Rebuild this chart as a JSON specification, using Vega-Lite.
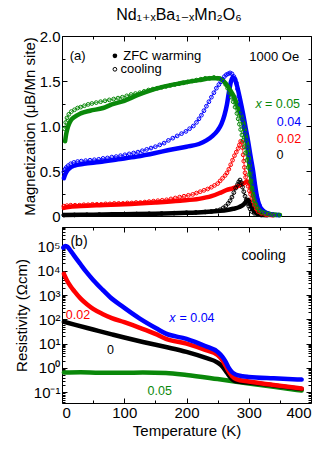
{
"$schema": "https://vega.github.io/schema/vega-lite/v6.json",
"padding": {"left": 13, "right": 2, "top": 6, "bottom": 2},
"title": {"text": "Nd₁₊ₓBa₁₋ₓMn₂O₆", "font": "Liberation Sans, DejaVu Sans", "fontSize": 16, "fontWeight": "normal", "color": "black", "anchor": "middle", "offset": 6, "dx": 16},
"spacing": 1,
"config": {
  "view": {"stroke": "black", "strokeWidth": 1},
  "font": "Liberation Sans",
  "axis": {"labelFont": "Liberation Sans", "titleFont": "Liberation Sans", "labelFontSize": 15, "titleFontSize": 15, "titleFontWeight": "normal", "labelColor": "black", "titleColor": "black", "tickColor": "black", "tickWidth": 1, "domain": false, "grid": false, "labelPadding": 7, "tickSize": -5}
},
"datasets": {
  "mag": [
    {"s":"0","m":"Z","T":3,"M":0.012},{"s":"0","m":"Z","T":50,"M":0.015},{"s":"0","m":"Z","T":100,"M":0.02},{"s":"0","m":"Z","T":150,"M":0.025},{"s":"0","m":"Z","T":200,"M":0.035},{"s":"0","m":"Z","T":230,"M":0.045},{"s":"0","m":"Z","T":250,"M":0.055},{"s":"0","m":"Z","T":265,"M":0.065},{"s":"0","m":"Z","T":275,"M":0.08},{"s":"0","m":"Z","T":285,"M":0.1},{"s":"0","m":"Z","T":292,"M":0.13},{"s":"0","m":"Z","T":296,"M":0.16},{"s":"0","m":"Z","T":299,"M":0.18},{"s":"0","m":"Z","T":302,"M":0.15},{"s":"0","m":"Z","T":305,"M":0.1},{"s":"0","m":"Z","T":308,"M":0.06},{"s":"0","m":"Z","T":312,"M":0.03},{"s":"0","m":"Z","T":318,"M":0.015},{"s":"0","m":"Z","T":330,"M":0.008},
    {"s":"0.02","m":"Z","T":3,"M":0.09},{"s":"0.02","m":"Z","T":10,"M":0.1},{"s":"0.02","m":"Z","T":30,"M":0.11},{"s":"0.02","m":"Z","T":60,"M":0.12},{"s":"0.02","m":"Z","T":100,"M":0.13},{"s":"0.02","m":"Z","T":150,"M":0.15},{"s":"0.02","m":"Z","T":190,"M":0.17},{"s":"0.02","m":"Z","T":220,"M":0.19},{"s":"0.02","m":"Z","T":240,"M":0.22},{"s":"0.02","m":"Z","T":255,"M":0.26},{"s":"0.02","m":"Z","T":265,"M":0.29},{"s":"0.02","m":"Z","T":275,"M":0.31},{"s":"0.02","m":"Z","T":285,"M":0.34},{"s":"0.02","m":"Z","T":292,"M":0.36},{"s":"0.02","m":"Z","T":297,"M":0.38},{"s":"0.02","m":"Z","T":300,"M":0.38},{"s":"0.02","m":"Z","T":303,"M":0.34},{"s":"0.02","m":"Z","T":306,"M":0.27},{"s":"0.02","m":"Z","T":309,"M":0.2},{"s":"0.02","m":"Z","T":312,"M":0.12},{"s":"0.02","m":"Z","T":316,"M":0.06},{"s":"0.02","m":"Z","T":322,"M":0.03},{"s":"0.02","m":"Z","T":330,"M":0.015},{"s":"0.02","m":"Z","T":340,"M":0.01},
    {"s":"0.04","m":"Z","T":3,"M":0.42},{"s":"0.04","m":"Z","T":5,"M":0.46},{"s":"0.04","m":"Z","T":8,"M":0.5},{"s":"0.04","m":"Z","T":12,"M":0.53},{"s":"0.04","m":"Z","T":20,"M":0.56},{"s":"0.04","m":"Z","T":35,"M":0.58},{"s":"0.04","m":"Z","T":60,"M":0.6},{"s":"0.04","m":"Z","T":90,"M":0.63},{"s":"0.04","m":"Z","T":120,"M":0.66},{"s":"0.04","m":"Z","T":150,"M":0.7},{"s":"0.04","m":"Z","T":170,"M":0.73},{"s":"0.04","m":"Z","T":200,"M":0.77},{"s":"0.04","m":"Z","T":220,"M":0.8},{"s":"0.04","m":"Z","T":232,"M":0.84},{"s":"0.04","m":"Z","T":242,"M":0.89},{"s":"0.04","m":"Z","T":250,"M":0.95},{"s":"0.04","m":"Z","T":256,"M":1.02},{"s":"0.04","m":"Z","T":261,"M":1.12},{"s":"0.04","m":"Z","T":265,"M":1.24},{"s":"0.04","m":"Z","T":268,"M":1.37},{"s":"0.04","m":"Z","T":271,"M":1.48},{"s":"0.04","m":"Z","T":274,"M":1.54},{"s":"0.04","m":"Z","T":277,"M":1.53},{"s":"0.04","m":"Z","T":281,"M":1.45},{"s":"0.04","m":"Z","T":286,"M":1.3},{"s":"0.04","m":"Z","T":291,"M":1.13},{"s":"0.04","m":"Z","T":295,"M":0.98},{"s":"0.04","m":"Z","T":299,"M":0.83},{"s":"0.04","m":"Z","T":303,"M":0.66},{"s":"0.04","m":"Z","T":307,"M":0.5},{"s":"0.04","m":"Z","T":310,"M":0.35},{"s":"0.04","m":"Z","T":313,"M":0.22},{"s":"0.04","m":"Z","T":317,"M":0.12},{"s":"0.04","m":"Z","T":323,"M":0.06},{"s":"0.04","m":"Z","T":330,"M":0.03},{"s":"0.04","m":"Z","T":345,"M":0.01},
    {"s":"0.05","m":"Z","T":5,"M":0.83},{"s":"0.05","m":"Z","T":7,"M":0.92},{"s":"0.05","m":"Z","T":10,"M":1.0},{"s":"0.05","m":"Z","T":14,"M":1.06},{"s":"0.05","m":"Z","T":20,"M":1.1},{"s":"0.05","m":"Z","T":30,"M":1.14},{"s":"0.05","m":"Z","T":45,"M":1.17},{"s":"0.05","m":"Z","T":66,"M":1.2},{"s":"0.05","m":"Z","T":80,"M":1.24},{"s":"0.05","m":"Z","T":100,"M":1.28},{"s":"0.05","m":"Z","T":120,"M":1.34},{"s":"0.05","m":"Z","T":140,"M":1.39},{"s":"0.05","m":"Z","T":165,"M":1.44},{"s":"0.05","m":"Z","T":195,"M":1.48},{"s":"0.05","m":"Z","T":220,"M":1.51},{"s":"0.05","m":"Z","T":240,"M":1.53},{"s":"0.05","m":"Z","T":252,"M":1.53},{"s":"0.05","m":"Z","T":262,"M":1.48},{"s":"0.05","m":"Z","T":270,"M":1.4},{"s":"0.05","m":"Z","T":276,"M":1.33},{"s":"0.05","m":"Z","T":281,"M":1.24},{"s":"0.05","m":"Z","T":286,"M":1.14},{"s":"0.05","m":"Z","T":291,"M":1.04},{"s":"0.05","m":"Z","T":295,"M":0.88},{"s":"0.05","m":"Z","T":299,"M":0.72},{"s":"0.05","m":"Z","T":302,"M":0.52},{"s":"0.05","m":"Z","T":305,"M":0.37},{"s":"0.05","m":"Z","T":309,"M":0.18},{"s":"0.05","m":"Z","T":313,"M":0.1},{"s":"0.05","m":"Z","T":318,"M":0.06},{"s":"0.05","m":"Z","T":325,"M":0.04},{"s":"0.05","m":"Z","T":335,"M":0.02},{"s":"0.05","m":"Z","T":350,"M":0.01},

    {"s":"0","m":"C","T":3,"M":0.01},{"s":"0","m":"C","T":20,"M":0.012},{"s":"0","m":"C","T":40,"M":0.014},{"s":"0","m":"C","T":60,"M":0.016},{"s":"0","m":"C","T":80,"M":0.018},{"s":"0","m":"C","T":100,"M":0.02},{"s":"0","m":"C","T":120,"M":0.022},{"s":"0","m":"C","T":140,"M":0.025},{"s":"0","m":"C","T":160,"M":0.028},{"s":"0","m":"C","T":180,"M":0.032},{"s":"0","m":"C","T":200,"M":0.036},{"s":"0","m":"C","T":215,"M":0.04},{"s":"0","m":"C","T":230,"M":0.045},{"s":"0","m":"C","T":240,"M":0.05},{"s":"0","m":"C","T":248,"M":0.06},{"s":"0","m":"C","T":254,"M":0.07},{"s":"0","m":"C","T":259,"M":0.09},{"s":"0","m":"C","T":263,"M":0.11},{"s":"0","m":"C","T":267,"M":0.14},{"s":"0","m":"C","T":270,"M":0.17},{"s":"0","m":"C","T":273,"M":0.21},{"s":"0","m":"C","T":276,"M":0.26},{"s":"0","m":"C","T":279,"M":0.31},{"s":"0","m":"C","T":282,"M":0.35},{"s":"0","m":"C","T":284,"M":0.38},{"s":"0","m":"C","T":286,"M":0.4},{"s":"0","m":"C","T":288,"M":0.37},{"s":"0","m":"C","T":290,"M":0.32},{"s":"0","m":"C","T":292,"M":0.27},{"s":"0","m":"C","T":294,"M":0.22},{"s":"0","m":"C","T":296,"M":0.18},{"s":"0","m":"C","T":298,"M":0.14},{"s":"0","m":"C","T":300,"M":0.11},{"s":"0","m":"C","T":302,"M":0.08},{"s":"0","m":"C","T":305,"M":0.05},{"s":"0","m":"C","T":309,"M":0.03},{"s":"0","m":"C","T":314,"M":0.02},{"s":"0","m":"C","T":320,"M":0.01},

    {"s":"0.02","m":"C","T":3,"M":0.11},{"s":"0.02","m":"C","T":8,"M":0.115},{"s":"0.02","m":"C","T":14,"M":0.12},{"s":"0.02","m":"C","T":21,"M":0.12},{"s":"0.02","m":"C","T":28,"M":0.12},{"s":"0.02","m":"C","T":35,"M":0.125},{"s":"0.02","m":"C","T":42,"M":0.125},{"s":"0.02","m":"C","T":49,"M":0.13},{"s":"0.02","m":"C","T":56,"M":0.13},{"s":"0.02","m":"C","T":63,"M":0.13},{"s":"0.02","m":"C","T":70,"M":0.135},{"s":"0.02","m":"C","T":77,"M":0.135},{"s":"0.02","m":"C","T":84,"M":0.14},{"s":"0.02","m":"C","T":91,"M":0.14},{"s":"0.02","m":"C","T":98,"M":0.14},{"s":"0.02","m":"C","T":105,"M":0.145},{"s":"0.02","m":"C","T":112,"M":0.145},{"s":"0.02","m":"C","T":119,"M":0.15},{"s":"0.02","m":"C","T":126,"M":0.15},{"s":"0.02","m":"C","T":133,"M":0.155},{"s":"0.02","m":"C","T":140,"M":0.16},{"s":"0.02","m":"C","T":147,"M":0.165},{"s":"0.02","m":"C","T":154,"M":0.17},{"s":"0.02","m":"C","T":161,"M":0.175},{"s":"0.02","m":"C","T":168,"M":0.18},{"s":"0.02","m":"C","T":175,"M":0.19},{"s":"0.02","m":"C","T":182,"M":0.2},{"s":"0.02","m":"C","T":189,"M":0.21},{"s":"0.02","m":"C","T":196,"M":0.22},{"s":"0.02","m":"C","T":203,"M":0.23},{"s":"0.02","m":"C","T":210,"M":0.24},{"s":"0.02","m":"C","T":216,"M":0.255},{"s":"0.02","m":"C","T":222,"M":0.27},{"s":"0.02","m":"C","T":228,"M":0.285},{"s":"0.02","m":"C","T":234,"M":0.3},{"s":"0.02","m":"C","T":240,"M":0.32},{"s":"0.02","m":"C","T":245,"M":0.34},{"s":"0.02","m":"C","T":250,"M":0.36},{"s":"0.02","m":"C","T":254,"M":0.39},{"s":"0.02","m":"C","T":258,"M":0.42},{"s":"0.02","m":"C","T":262,"M":0.45},{"s":"0.02","m":"C","T":265,"M":0.48},{"s":"0.02","m":"C","T":268,"M":0.52},{"s":"0.02","m":"C","T":271,"M":0.57},{"s":"0.02","m":"C","T":274,"M":0.62},{"s":"0.02","m":"C","T":277,"M":0.67},{"s":"0.02","m":"C","T":280,"M":0.71},{"s":"0.02","m":"C","T":283,"M":0.75},{"s":"0.02","m":"C","T":285,"M":0.79},{"s":"0.02","m":"C","T":287,"M":0.83},{"s":"0.02","m":"C","T":289,"M":0.82},{"s":"0.02","m":"C","T":290,"M":0.76},{"s":"0.02","m":"C","T":291,"M":0.68},{"s":"0.02","m":"C","T":292,"M":0.61},{"s":"0.02","m":"C","T":293,"M":0.54},{"s":"0.02","m":"C","T":294,"M":0.48},{"s":"0.02","m":"C","T":295,"M":0.43},{"s":"0.02","m":"C","T":297,"M":0.38},{"s":"0.02","m":"C","T":299,"M":0.33},{"s":"0.02","m":"C","T":301,"M":0.28},{"s":"0.02","m":"C","T":303,"M":0.24},{"s":"0.02","m":"C","T":305,"M":0.2},{"s":"0.02","m":"C","T":307,"M":0.16},{"s":"0.02","m":"C","T":309,"M":0.12},{"s":"0.02","m":"C","T":312,"M":0.08},{"s":"0.02","m":"C","T":315,"M":0.05},{"s":"0.02","m":"C","T":320,"M":0.03},{"s":"0.02","m":"C","T":328,"M":0.015},{"s":"0.02","m":"C","T":338,"M":0.01},

    {"s":"0.04","m":"C","T":3,"M":0.49},{"s":"0.04","m":"C","T":5,"M":0.52},{"s":"0.04","m":"C","T":7,"M":0.54},{"s":"0.04","m":"C","T":10,"M":0.56},{"s":"0.04","m":"C","T":14,"M":0.58},{"s":"0.04","m":"C","T":19,"M":0.595},{"s":"0.04","m":"C","T":25,"M":0.605},{"s":"0.04","m":"C","T":31,"M":0.61},{"s":"0.04","m":"C","T":38,"M":0.615},{"s":"0.04","m":"C","T":45,"M":0.62},{"s":"0.04","m":"C","T":52,"M":0.625},{"s":"0.04","m":"C","T":59,"M":0.63},{"s":"0.04","m":"C","T":66,"M":0.64},{"s":"0.04","m":"C","T":73,"M":0.645},{"s":"0.04","m":"C","T":80,"M":0.655},{"s":"0.04","m":"C","T":87,"M":0.66},{"s":"0.04","m":"C","T":94,"M":0.67},{"s":"0.04","m":"C","T":101,"M":0.68},{"s":"0.04","m":"C","T":108,"M":0.69},{"s":"0.04","m":"C","T":115,"M":0.7},{"s":"0.04","m":"C","T":122,"M":0.71},{"s":"0.04","m":"C","T":129,"M":0.725},{"s":"0.04","m":"C","T":136,"M":0.74},{"s":"0.04","m":"C","T":143,"M":0.755},{"s":"0.04","m":"C","T":150,"M":0.77},{"s":"0.04","m":"C","T":157,"M":0.79},{"s":"0.04","m":"C","T":164,"M":0.81},{"s":"0.04","m":"C","T":171,"M":0.84},{"s":"0.04","m":"C","T":178,"M":0.865},{"s":"0.04","m":"C","T":185,"M":0.89},{"s":"0.04","m":"C","T":192,"M":0.915},{"s":"0.04","m":"C","T":199,"M":0.94},{"s":"0.04","m":"C","T":205,"M":0.97},{"s":"0.04","m":"C","T":211,"M":1.0},{"s":"0.04","m":"C","T":216,"M":1.04},{"s":"0.04","m":"C","T":220,"M":1.08},{"s":"0.04","m":"C","T":224,"M":1.12},{"s":"0.04","m":"C","T":228,"M":1.17},{"s":"0.04","m":"C","T":232,"M":1.22},{"s":"0.04","m":"C","T":236,"M":1.27},{"s":"0.04","m":"C","T":240,"M":1.32},{"s":"0.04","m":"C","T":244,"M":1.37},{"s":"0.04","m":"C","T":248,"M":1.42},{"s":"0.04","m":"C","T":252,"M":1.46},{"s":"0.04","m":"C","T":255,"M":1.49},{"s":"0.04","m":"C","T":258,"M":1.52},{"s":"0.04","m":"C","T":261,"M":1.55},{"s":"0.04","m":"C","T":264,"M":1.57},{"s":"0.04","m":"C","T":267,"M":1.58},{"s":"0.04","m":"C","T":270,"M":1.59},{"s":"0.04","m":"C","T":273,"M":1.58},{"s":"0.04","m":"C","T":276,"M":1.55},{"s":"0.04","m":"C","T":278,"M":1.52},{"s":"0.04","m":"C","T":280,"M":1.48},{"s":"0.04","m":"C","T":282,"M":1.41},{"s":"0.04","m":"C","T":284,"M":1.33},{"s":"0.04","m":"C","T":286,"M":1.24},{"s":"0.04","m":"C","T":288,"M":1.15},{"s":"0.04","m":"C","T":290,"M":1.07},{"s":"0.04","m":"C","T":292,"M":0.99},{"s":"0.04","m":"C","T":294,"M":0.92},{"s":"0.04","m":"C","T":296,"M":0.84},{"s":"0.04","m":"C","T":298,"M":0.76},{"s":"0.04","m":"C","T":300,"M":0.68},{"s":"0.04","m":"C","T":302,"M":0.6},{"s":"0.04","m":"C","T":304,"M":0.52},{"s":"0.04","m":"C","T":306,"M":0.44},{"s":"0.04","m":"C","T":308,"M":0.36},{"s":"0.04","m":"C","T":310,"M":0.29},{"s":"0.04","m":"C","T":312,"M":0.23},{"s":"0.04","m":"C","T":314,"M":0.18},{"s":"0.04","m":"C","T":317,"M":0.12},{"s":"0.04","m":"C","T":320,"M":0.08},{"s":"0.04","m":"C","T":324,"M":0.05},{"s":"0.04","m":"C","T":330,"M":0.03},{"s":"0.04","m":"C","T":338,"M":0.015},{"s":"0.04","m":"C","T":348,"M":0.01},

    {"s":"0.05","m":"C","T":4,"M":0.97},{"s":"0.05","m":"C","T":6,"M":1.04},{"s":"0.05","m":"C","T":8,"M":1.09},{"s":"0.05","m":"C","T":11,"M":1.13},{"s":"0.05","m":"C","T":15,"M":1.16},{"s":"0.05","m":"C","T":20,"M":1.18},{"s":"0.05","m":"C","T":25,"M":1.2},{"s":"0.05","m":"C","T":30,"M":1.21},{"s":"0.05","m":"C","T":36,"M":1.225},{"s":"0.05","m":"C","T":42,"M":1.24},{"s":"0.05","m":"C","T":48,"M":1.25},{"s":"0.05","m":"C","T":55,"M":1.26},{"s":"0.05","m":"C","T":62,"M":1.27},{"s":"0.05","m":"C","T":69,"M":1.28},{"s":"0.05","m":"C","T":76,"M":1.29},{"s":"0.05","m":"C","T":83,"M":1.3},{"s":"0.05","m":"C","T":90,"M":1.31},{"s":"0.05","m":"C","T":97,"M":1.32},{"s":"0.05","m":"C","T":104,"M":1.335},{"s":"0.05","m":"C","T":111,"M":1.35},{"s":"0.05","m":"C","T":118,"M":1.36},{"s":"0.05","m":"C","T":125,"M":1.37},{"s":"0.05","m":"C","T":132,"M":1.385},{"s":"0.05","m":"C","T":139,"M":1.4},{"s":"0.05","m":"C","T":146,"M":1.41},{"s":"0.05","m":"C","T":153,"M":1.42},{"s":"0.05","m":"C","T":160,"M":1.43},{"s":"0.05","m":"C","T":167,"M":1.44},{"s":"0.05","m":"C","T":174,"M":1.45},{"s":"0.05","m":"C","T":181,"M":1.46},{"s":"0.05","m":"C","T":188,"M":1.47},{"s":"0.05","m":"C","T":195,"M":1.48},{"s":"0.05","m":"C","T":202,"M":1.49},{"s":"0.05","m":"C","T":209,"M":1.5},{"s":"0.05","m":"C","T":216,"M":1.51},{"s":"0.05","m":"C","T":223,"M":1.52},{"s":"0.05","m":"C","T":230,"M":1.53},{"s":"0.05","m":"C","T":237,"M":1.53},{"s":"0.05","m":"C","T":244,"M":1.54},{"s":"0.05","m":"C","T":250,"M":1.53},{"s":"0.05","m":"C","T":255,"M":1.52},{"s":"0.05","m":"C","T":259,"M":1.5},{"s":"0.05","m":"C","T":263,"M":1.46},{"s":"0.05","m":"C","T":266,"M":1.42},{"s":"0.05","m":"C","T":269,"M":1.37},{"s":"0.05","m":"C","T":272,"M":1.32},{"s":"0.05","m":"C","T":275,"M":1.27},{"s":"0.05","m":"C","T":278,"M":1.21},{"s":"0.05","m":"C","T":281,"M":1.14},{"s":"0.05","m":"C","T":283,"M":1.08},{"s":"0.05","m":"C","T":285,"M":1.02},{"s":"0.05","m":"C","T":287,"M":0.96},{"s":"0.05","m":"C","T":289,"M":0.9},{"s":"0.05","m":"C","T":291,"M":0.84},{"s":"0.05","m":"C","T":293,"M":0.77},{"s":"0.05","m":"C","T":295,"M":0.7},{"s":"0.05","m":"C","T":297,"M":0.62},{"s":"0.05","m":"C","T":299,"M":0.54},{"s":"0.05","m":"C","T":301,"M":0.46},{"s":"0.05","m":"C","T":303,"M":0.38},{"s":"0.05","m":"C","T":305,"M":0.3},{"s":"0.05","m":"C","T":307,"M":0.23},{"s":"0.05","m":"C","T":309,"M":0.17},{"s":"0.05","m":"C","T":311,"M":0.13},{"s":"0.05","m":"C","T":314,"M":0.09},{"s":"0.05","m":"C","T":317,"M":0.06},{"s":"0.05","m":"C","T":321,"M":0.04},{"s":"0.05","m":"C","T":326,"M":0.03},{"s":"0.05","m":"C","T":332,"M":0.02},{"s":"0.05","m":"C","T":340,"M":0.01},{"s":"0.05","m":"C","T":350,"M":0.01}
  ],
  "res": [
    {"s":"0.05","T":3,"R":0.646},{"s":"0.05","T":30,"R":0.661},{"s":"0.05","T":60,"R":0.631},{"s":"0.05","T":100,"R":0.631},{"s":"0.05","T":130,"R":0.646},{"s":"0.05","T":167,"R":0.617},{"s":"0.05","T":200,"R":0.513},{"s":"0.05","T":250,"R":0.347},{"s":"0.05","T":300,"R":0.229},{"s":"0.05","T":340,"R":0.166},{"s":"0.05","T":385,"R":0.117},
    {"s":"0","T":3,"R":79.4},{"s":"0","T":20,"R":60.3},{"s":"0","T":50,"R":38},{"s":"0","T":80,"R":24},{"s":"0","T":100,"R":17.8},{"s":"0","T":130,"R":11.7},{"s":"0","T":167,"R":7.24},{"s":"0","T":200,"R":4.57},{"s":"0","T":230,"R":2.63},{"s":"0","T":250,"R":1.66},{"s":"0","T":258,"R":1.12},{"s":"0","T":265,"R":0.631},{"s":"0","T":270,"R":0.417},{"s":"0","T":275,"R":0.316},{"s":"0","T":280,"R":0.282},{"s":"0","T":300,"R":0.251},{"s":"0","T":340,"R":0.19},{"s":"0","T":385,"R":0.135},
    {"s":"0.02","T":3,"R":7413},{"s":"0.02","T":8,"R":3981},{"s":"0.02","T":14,"R":2239},{"s":"0.02","T":20,"R":1413},{"s":"0.02","T":30,"R":708},{"s":"0.02","T":40,"R":417},{"s":"0.02","T":50,"R":269},{"s":"0.02","T":65,"R":166},{"s":"0.02","T":80,"R":112},{"s":"0.02","T":100,"R":75.9},{"s":"0.02","T":125,"R":44.7},{"s":"0.02","T":150,"R":25.1},{"s":"0.02","T":167,"R":15.8},{"s":"0.02","T":200,"R":10},{"s":"0.02","T":230,"R":5.5},{"s":"0.02","T":250,"R":3.39},{"s":"0.02","T":258,"R":2.0},{"s":"0.02","T":263,"R":1.2},{"s":"0.02","T":268,"R":0.708},{"s":"0.02","T":273,"R":0.468},{"s":"0.02","T":280,"R":0.347},{"s":"0.02","T":300,"R":0.275},{"s":"0.02","T":340,"R":0.2},{"s":"0.02","T":385,"R":0.141},
    {"s":"0.04","T":2,"R":89125},{"s":"0.04","T":5,"R":104713},{"s":"0.04","T":8,"R":100000},{"s":"0.04","T":13,"R":70795},{"s":"0.04","T":20,"R":39811},{"s":"0.04","T":29,"R":19498},{"s":"0.04","T":40,"R":8318},{"s":"0.04","T":50,"R":4169},{"s":"0.04","T":65,"R":1660},{"s":"0.04","T":77,"R":832},{"s":"0.04","T":98,"R":324},{"s":"0.04","T":125,"R":107},{"s":"0.04","T":152,"R":41.7},{"s":"0.04","T":167,"R":25.7},{"s":"0.04","T":200,"R":15.8},{"s":"0.04","T":230,"R":7.94},{"s":"0.04","T":250,"R":4.57},{"s":"0.04","T":258,"R":2.82},{"s":"0.04","T":263,"R":1.78},{"s":"0.04","T":268,"R":1.0},{"s":"0.04","T":273,"R":0.676},{"s":"0.04","T":280,"R":0.525},{"s":"0.04","T":290,"R":0.457},{"s":"0.04","T":300,"R":0.427},{"s":"0.04","T":340,"R":0.372},{"s":"0.04","T":385,"R":0.331}
  ]
},
"vconcat": [
  {
    "width": 249, "height": 180,
    "layer": [
      {"data": {"values": [{"T": 200, "M": 1}]}, "mark": {"type": "point", "opacity": 0},
       "encoding": {
         "x": {"field": "T", "type": "quantitative", "scale": {"domain": [0, 400], "nice": false}, "axis": {"orient": "bottom", "values": [0, 100, 200, 300, 400], "labels": false, "title": null}},
         "y": {"field": "M", "type": "quantitative", "scale": {"domain": [0, 2], "nice": false}, "axis": {"orient": "left", "values": [0, 0.5, 1, 1.5, 2], "labelExpr": "datum.value == 0 ? '0' : format(datum.value, '.1f')", "title": "Magnetization (μB/Mn site)", "titlePadding": 2}}}},
      {"data": {"values": [{"T": 200, "M": 1}]}, "mark": {"type": "point", "opacity": 0},
       "encoding": {
         "x": {"field": "T", "type": "quantitative", "scale": {"domain": [0, 400], "nice": false}, "axis": {"orient": "bottom", "values": [50, 150, 250, 350], "labels": false, "title": null, "tickSize": -3}},
         "y": {"field": "M", "type": "quantitative", "scale": {"domain": [0, 2], "nice": false}, "axis": {"orient": "left", "values": [0.25, 0.75, 1.25, 1.75], "labels": false, "title": null, "tickSize": -3}}}},
      {"data": {"values": [{"T": 200, "M": 1}]}, "mark": {"type": "point", "opacity": 0},
       "encoding": {
         "x": {"field": "T", "type": "quantitative", "scale": {"domain": [0, 400], "nice": false}, "axis": {"orient": "top", "values": [0, 100, 200, 300, 400], "labels": false, "title": null}},
         "y": {"field": "M", "type": "quantitative", "scale": {"domain": [0, 2], "nice": false}, "axis": {"orient": "right", "values": [0, 0.5, 1, 1.5, 2], "labels": false, "title": null}}}},
      {"data": {"values": [{"T": 200, "M": 1}]}, "mark": {"type": "point", "opacity": 0},
       "encoding": {
         "x": {"field": "T", "type": "quantitative", "scale": {"domain": [0, 400], "nice": false}, "axis": {"orient": "top", "values": [50, 150, 250, 350], "labels": false, "title": null, "tickSize": -3}},
         "y": {"field": "M", "type": "quantitative", "scale": {"domain": [0, 2], "nice": false}, "axis": {"orient": "right", "values": [0.25, 0.75, 1.25, 1.75], "labels": false, "title": null, "tickSize": -3}}}},
      {"data": {"name": "mag"}, "transform": [{"filter": "datum.m == 'Z'"}],
       "mark": {"type": "line", "strokeWidth": 4.5, "interpolate": "monotone", "strokeCap": "round"},
       "encoding": {
         "x": {"field": "T", "type": "quantitative", "axis": null},
         "y": {"field": "M", "type": "quantitative", "axis": null},
         "color": {"field": "s", "type": "nominal", "legend": null, "scale": {"domain": ["0", "0.02", "0.04", "0.05", "k"], "range": ["#000000", "#ff0000", "#0000ff", "#0a880a", "#000000"]}}}},
      {"data": {"name": "mag"}, "transform": [{"filter": "datum.m == 'C'"}],
       "mark": {"type": "line", "strokeWidth": 0.8, "interpolate": "linear"},
       "encoding": {
         "x": {"field": "T", "type": "quantitative", "axis": null},
         "y": {"field": "M", "type": "quantitative", "axis": null},
         "color": {"field": "s", "type": "nominal", "legend": null}}},
      {"data": {"name": "mag"}, "transform": [{"filter": "datum.m == 'C'"}],
       "mark": {"type": "point", "filled": false, "size": 14, "strokeWidth": 1, "opacity": 1},
       "encoding": {
         "x": {"field": "T", "type": "quantitative", "axis": null},
         "y": {"field": "M", "type": "quantitative", "axis": null},
         "color": {"field": "s", "type": "nominal", "legend": null}}},
      {"data": {"values": [{"T": 85, "M": 1.78}]}, "mark": {"type": "point", "filled": true, "size": 22, "color": "black", "opacity": 1},
       "encoding": {"x": {"field": "T", "type": "quantitative", "axis": null}, "y": {"field": "M", "type": "quantitative", "axis": null}}},
      {"data": {"values": [{"T": 85, "M": 1.63}]}, "mark": {"type": "point", "filled": false, "size": 14, "strokeWidth": 1, "color": "black", "opacity": 1},
       "encoding": {"x": {"field": "T", "type": "quantitative", "axis": null}, "y": {"field": "M", "type": "quantitative", "axis": null}}},
      {"data": {"values": [{"T": 25, "M": 1.78, "t": "(a)"}, {"T": 161, "M": 1.78, "t": "ZFC warming"}, {"T": 127, "M": 1.63, "t": "cooling"}, {"T": 341, "M": 1.77, "t": "1000 Oe"}]},
       "mark": {"type": "text", "fontSize": 13, "font": "Liberation Sans", "color": "black"},
       "encoding": {"x": {"field": "T", "type": "quantitative", "axis": null}, "y": {"field": "M", "type": "quantitative", "axis": null}, "text": {"field": "t"}}},
      {"data": {"values": [{"T": 354.2, "M": 1.242, "t": "= 0.05", "s": "0.05"}, {"T": 364.7, "M": 1.05, "t": "0.04", "s": "0.04"}, {"T": 364.7, "M": 0.861, "t": "0.02", "s": "0.02"}, {"T": 350.2, "M": 0.683, "t": "0", "s": "0"}]},
       "mark": {"type": "text", "fontSize": 12.5, "font": "Liberation Sans"},
       "encoding": {"x": {"field": "T", "type": "quantitative", "axis": null}, "y": {"field": "M", "type": "quantitative", "axis": null}, "text": {"field": "t"}, "color": {"field": "s", "type": "nominal", "legend": null}}},
      {"data": {"values": [{"T": 315.7, "M": 1.242, "t": "x", "s": "0.05"}]},
       "mark": {"type": "text", "fontSize": 12.5, "font": "Liberation Sans", "fontStyle": "italic"},
       "encoding": {"x": {"field": "T", "type": "quantitative", "axis": null}, "y": {"field": "M", "type": "quantitative", "axis": null}, "text": {"field": "t"}, "color": {"field": "s", "type": "nominal", "legend": null}}}
    ],
    "resolve": {"axis": {"x": "independent", "y": "independent"}}
  },
  {
    "width": 249, "height": 176,
    "layer": [
      {"data": {"values": [{"T": 200, "R": 1}]}, "mark": {"type": "point", "opacity": 0},
       "encoding": {
         "x": {"field": "T", "type": "quantitative", "scale": {"domain": [0, 400], "nice": false}, "axis": {"orient": "bottom", "values": [0, 100, 200, 300, 400], "title": "Temperature (K)", "titlePadding": 3}},
         "y": {"field": "R", "type": "quantitative", "scale": {"type": "log", "domain": [0.036, 630000], "nice": false}, "axis": {"orient": "left", "values": [0.1, 1, 10, 100, 1000, 10000, 100000], "labelExpr": "'10' + ['⁻¹','⁰','¹','²','³','⁴','⁵'][round(log(datum.value)/LN10)+1]", "title": "Resistivity (Ωcm)", "titlePadding": 4}}}},
      {"data": {"values": [{"T": 200, "R": 1}]}, "mark": {"type": "point", "opacity": 0},
       "encoding": {
         "x": {"field": "T", "type": "quantitative", "scale": {"domain": [0, 400], "nice": false}, "axis": {"orient": "bottom", "values": [50, 150, 250, 350], "labels": false, "title": null, "tickSize": -3}},
         "y": {"field": "R", "type": "quantitative", "scale": {"type": "log", "domain": [0.036, 630000], "nice": false}, "axis": {"orient": "left", "values": [0.04,0.05,0.06,0.07,0.08,0.09,0.2,0.3,0.4,0.5,0.6,0.7,0.8,0.9,2,3,4,5,6,7,8,9,20,30,40,50,60,70,80,90,200,300,400,500,600,700,800,900,2000,3000,4000,5000,6000,7000,8000,9000,20000,30000,40000,50000,60000,70000,80000,90000,200000,300000,400000,500000,600000], "labels": false, "title": null, "tickSize": -3}}}},
      {"data": {"values": [{"T": 200, "R": 1}]}, "mark": {"type": "point", "opacity": 0},
       "encoding": {
         "x": {"field": "T", "type": "quantitative", "scale": {"domain": [0, 400], "nice": false}, "axis": {"orient": "top", "values": [0, 100, 200, 300, 400], "labels": false, "title": null}},
         "y": {"field": "R", "type": "quantitative", "scale": {"type": "log", "domain": [0.036, 630000], "nice": false}, "axis": {"orient": "right", "values": [0.1, 1, 10, 100, 1000, 10000, 100000], "labels": false, "title": null}}}},
      {"data": {"values": [{"T": 200, "R": 1}]}, "mark": {"type": "point", "opacity": 0},
       "encoding": {
         "x": {"field": "T", "type": "quantitative", "scale": {"domain": [0, 400], "nice": false}, "axis": {"orient": "top", "values": [50, 150, 250, 350], "labels": false, "title": null, "tickSize": -3}},
         "y": {"field": "R", "type": "quantitative", "scale": {"type": "log", "domain": [0.036, 630000], "nice": false}, "axis": {"orient": "right", "values": [0.04,0.05,0.06,0.07,0.08,0.09,0.2,0.3,0.4,0.5,0.6,0.7,0.8,0.9,2,3,4,5,6,7,8,9,20,30,40,50,60,70,80,90,200,300,400,500,600,700,800,900,2000,3000,4000,5000,6000,7000,8000,9000,20000,30000,40000,50000,60000,70000,80000,90000,200000,300000,400000,500000,600000], "labels": false, "title": null, "tickSize": -3}}}},
      {"data": {"name": "res"},
       "mark": {"type": "line", "strokeWidth": 4.5, "interpolate": "monotone", "strokeCap": "round"},
       "encoding": {
         "x": {"field": "T", "type": "quantitative", "axis": null},
         "y": {"field": "R", "type": "quantitative", "axis": null},
         "color": {"field": "s", "type": "nominal", "legend": null, "scale": {"domain": ["0", "0.02", "0.04", "0.05", "k"], "range": ["#000000", "#ff0000", "#0000ff", "#0a880a", "#000000"]}}}},
      {"data": {"values": [{"T": 27.3, "R": 153000, "t": "(b)"}, {"T": 324, "R": 39800, "t": "cooling"}]},
       "mark": {"type": "text", "fontSize": 14, "font": "Liberation Sans", "color": "black"},
       "encoding": {"x": {"field": "T", "type": "quantitative", "axis": null}, "y": {"field": "R", "type": "quantitative", "axis": null}, "text": {"field": "t"}}},
      {"data": {"values": [{"T": 216.9, "R": 117, "t": "= 0.04", "s": "0.04"}, {"T": 25.7, "R": 148, "t": "0.02", "s": "0.02"}, {"T": 78, "R": 5.4, "t": "0", "s": "0"}, {"T": 157, "R": 0.112, "t": "0.05", "s": "0.05"}]},
       "mark": {"type": "text", "fontSize": 12.5, "font": "Liberation Sans"},
       "encoding": {"x": {"field": "T", "type": "quantitative", "axis": null}, "y": {"field": "R", "type": "quantitative", "axis": null}, "text": {"field": "t"}, "color": {"field": "s", "type": "nominal", "legend": null}}},
      {"data": {"values": [{"T": 177.5, "R": 117, "t": "x", "s": "0.04"}]},
       "mark": {"type": "text", "fontSize": 12.5, "font": "Liberation Sans", "fontStyle": "italic"},
       "encoding": {"x": {"field": "T", "type": "quantitative", "axis": null}, "y": {"field": "R", "type": "quantitative", "axis": null}, "text": {"field": "t"}, "color": {"field": "s", "type": "nominal", "legend": null}}}
    ],
    "resolve": {"axis": {"x": "independent", "y": "independent"}}
  }
]
}
